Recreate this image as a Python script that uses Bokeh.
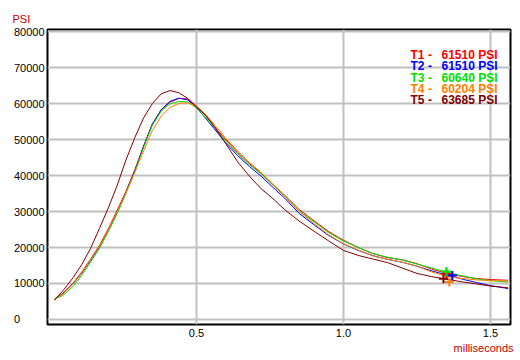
from bokeh.plotting import figure
from bokeh.models import Range1d, FixedTicker, Title, ColumnDataSource
from bokeh.core.properties import value
from bokeh.embed import file_html
from bokeh.resources import INLINE

# ---- data ----
x_ms = [0.017, 0.05, 0.08, 0.11, 0.14, 0.17, 0.20, 0.23, 0.26, 0.29, 0.32, 0.35, 0.38, 0.41,
        0.44, 0.47, 0.50, 0.53, 0.56, 0.60, 0.64, 0.68, 0.72, 0.76, 0.80, 0.85, 0.90, 0.95,
        1.00, 1.05, 1.10, 1.15, 1.20, 1.25, 1.30, 1.35, 1.40, 1.45, 1.50, 1.56]

t1_psi = [5500, 7600, 10100, 13200, 16800, 20600, 25200, 30300, 35600, 41500, 48200, 54300, 58200, 60400,
          61400, 61300, 59300, 56700, 53700, 49900, 46400, 43300, 40600, 37500, 34500, 30500, 27400, 24400,
          22000, 20000, 18300, 17200, 16600, 15500, 14000, 12800, 12000, 11400, 11100, 10900]
t2_psi = [5500, 7500, 9900, 12900, 16400, 20100, 24700, 29700, 35300, 41300, 48100, 54300, 58300, 60600,
          61500, 61000, 58900, 56000, 53000, 49000, 45500, 42500, 39800, 36700, 33700, 29400, 26300, 23300,
          21000, 19200, 17700, 16700, 15900, 14800, 13500, 12400, 11300, 10300, 9400, 8600]
t3_psi = [5500, 7000, 9200, 12300, 16000, 19800, 24400, 29400, 35000, 41000, 47800, 54000, 57900, 59900,
          60600, 60400, 58800, 56200, 53400, 49500, 46000, 43000, 40400, 37300, 34300, 30100, 27100, 24100,
          21800, 20000, 18300, 17300, 16500, 15400, 14300, 13200, 12200, 11300, 10800, 10400]
t4_psi = [5500, 7400, 9900, 13000, 16600, 20300, 24900, 29900, 35200, 40800, 46800, 52500, 56500, 58900,
          60000, 60200, 59300, 57000, 54200, 50300, 46800, 43600, 40800, 37500, 34200, 29900, 26600, 23500,
          21000, 19300, 17700, 16700, 15900, 14800, 13200, 12000, 11400, 11000, 10800, 10700]
t5_psi = [5500, 8400, 11600, 15300, 19800, 25300, 31000, 37200, 44300, 50500, 56000, 60000, 62700, 63600,
          63000, 61400, 59000, 56900, 53700, 48800, 43800, 39800, 36300, 33600, 30500, 27300, 24500, 21800,
          19200, 17800, 16800, 15800, 14300, 12800, 11900, 11200, 10500, 9900, 9300, 8800]

series_names = ["T1", "T2", "T3", "T4", "T5"]
peak_psi = [61510, 61510, 60640, 60204, 63685]
series_colors = ["#ff0000", "#0000ff", "#00e000", "#ff8000", "#800000"]
marker_x = [1.35, 1.37, 1.35, 1.36, 1.34]
marker_y = [12700, 12200, 13300, 10400, 11300]

y_ticks = [0, 10000, 20000, 30000, 40000, 50000, 60000, 70000, 80000]
x_ticks = [0.5, 1.0, 1.5]
x_tick_labels = ["0.5", "1.0", "1.5"]

FONT = "Liberation Sans"
AXIS_RED = "#c00000"

p = figure(width=520, height=360, output_backend="svg", toolbar_location=None,
           x_range=Range1d(-0.0068, 1.568), y_range=Range1d(-1390, 80560))
p.min_border_left = 47
p.min_border_right = 10
p.min_border_top = 29
p.min_border_bottom = 36
p.background_fill_color = "white"
p.border_fill_color = "white"
p.outline_line_color = "black"
p.outline_line_width = 2

# grid
p.xgrid.ticker = FixedTicker(ticks=x_ticks)
p.ygrid.ticker = FixedTicker(ticks=y_ticks)
for g in (p.xgrid, p.ygrid):
    g.grid_line_color = "#c0c0c0"
    g.grid_line_width = 2

# axes
p.xaxis.ticker = FixedTicker(ticks=x_ticks)
p.xaxis.major_label_overrides = {t: s for t, s in zip(x_ticks, x_tick_labels)}
p.yaxis.ticker = FixedTicker(ticks=y_ticks)
p.yaxis.major_label_overrides = {t: (str(t) + "\u00a0" * (2 * (5 - len(str(t))))) for t in y_ticks}
for ax in (p.xaxis, p.yaxis):
    ax.axis_line_color = None
    ax.major_tick_line_color = None
    ax.minor_tick_line_color = None
    ax.major_tick_out = 0
    ax.major_tick_in = 0
    ax.major_label_text_font = FONT
    ax.major_label_text_font_size = "11px"
    ax.major_label_text_color = "black"
p.yaxis.major_label_standoff = 3
p.xaxis.major_label_standoff = 4

# curves
for ys, c in zip([t1_psi, t2_psi, t3_psi, t4_psi, t5_psi], series_colors):
    p.line(x_ms, ys, line_color=c, line_width=1)

# cursor markers
p.scatter(marker_x, marker_y, marker="cross", size=9, line_width=2, color=series_colors)

# legend text
leg_top = 73600
leg_step = 3190
src = ColumnDataSource(dict(
    name=[n + " -" for n in series_names],
    val=["%d PSI" % v for v in peak_psi],
    color=series_colors,
    y=[leg_top - i * leg_step for i in range(len(series_names))],
    xl=[1.228] * len(series_names),
    xr=[1.524] * len(series_names),
))
p.text(x="xl", y="y", text="name", source=src, text_color="color", text_align="left",
       text_baseline="middle", text_font=value(FONT), text_font_size="12px", text_font_style="bold")
p.text(x="xr", y="y", text="val", source=src, text_color="color", text_align="right",
       text_baseline="middle", text_font=value(FONT), text_font_size="12px", text_font_style="bold")

# axis titles
p.add_layout(Title(text="PSI", align="left", text_color=AXIS_RED, text_font=FONT,
                   text_font_size="11px", text_font_style="normal", offset=-35, standoff=10), "above")
p.add_layout(Title(text="milliseconds", align="right", text_color=AXIS_RED, text_font=FONT,
                   text_font_size="11px", text_font_style="normal", offset=-3, standoff=0), "below")

open("out.html", "w").write(file_html(p, INLINE))
